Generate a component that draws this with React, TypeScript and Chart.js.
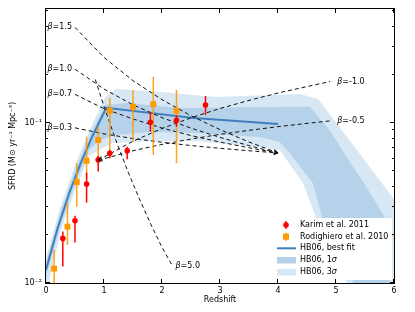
import { useEffect, useRef } from "react";
import { Chart, registerables } from "chart.js";

Chart.register(...registerables);

// ---------- data ----------
const karimZ = [0.29, 0.5, 0.7, 0.9, 1.1, 1.4, 1.8, 2.25, 2.75];
const karimSFRD = [0.019, 0.0245, 0.0415, 0.0588, 0.0647, 0.0672, 0.101, 0.104, 0.1295];
const karimLow = [0.0127, 0.0179, 0.0318, 0.0497, 0.0602, 0.0593, 0.0883, 0.0948, 0.112];
const karimHigh = [0.021, 0.0263, 0.049, 0.0622, 0.0679, 0.0711, 0.1176, 0.112, 0.1474];

const rodZ = [0.14, 0.37, 0.53, 0.7, 0.9, 1.1, 1.5, 1.85, 2.25];
const rodSFRD = [0.0123, 0.0225, 0.0427, 0.058, 0.0783, 0.1193, 0.1264, 0.131, 0.1193];
const rodLow = [0.007, 0.0173, 0.03, 0.0454, 0.058, 0.0659, 0.0765, 0.0632, 0.0561];
const rodHigh = [0.0161, 0.0316, 0.056, 0.0822, 0.0948, 0.1438, 0.1607, 0.1944, 0.161];

const fitZ = [0, 0.2, 0.4, 0.6, 0.8, 1.04, 2.5, 4.0];
const fitSFRD = [0.0121, 0.022, 0.0364, 0.0563, 0.0827, 0.1245, 0.108, 0.0986];

const sigma1UpperZ = [0, 0.25, 0.5, 0.75, 1.02, 1.4, 2.31, 4.2, 4.55, 4.89, 5.16, 5.48, 5.84, 5.93, 5.97];
const sigma1Upper = [0.0133, 0.0276, 0.0502, 0.083, 0.1295, 0.1333, 0.124, 0.1264, 0.1264, 0.0904, 0.063, 0.0422, 0.0259, 0.01, 0.007];
const sigma1LowerZ = [0, 0.25, 0.5, 0.75, 0.935, 1.19, 1.8, 2.57, 3.69, 4.03, 4.2, 4.6, 4.76, 5.44, 5.97];
const sigma1Lower = [0.011, 0.0228, 0.0415, 0.0685, 0.0783, 0.0842, 0.0879, 0.0866, 0.0818, 0.0761, 0.065, 0.0422, 0.0259, 0.0079, 0.006];

const sigma3UpperZ = [0, 0.25, 0.5, 0.75, 1.02, 1.21, 1.97, 2.93, 4.38, 4.69, 5.36, 5.79, 6.1];
const sigma3Upper = [0.0145, 0.03, 0.0547, 0.09, 0.1453, 0.163, 0.156, 0.1453, 0.1517, 0.1412, 0.0679, 0.0422, 0.03];
const sigma3LowerZ = [0, 0.25, 0.5, 0.75, 1.14, 1.8, 2.57, 3.5, 4.03, 4.43, 4.65, 5.32, 6.1];
const sigma3Lower = [0.0085, 0.0209, 0.038, 0.0628, 0.075, 0.0772, 0.0772, 0.0719, 0.0679, 0.0422, 0.0259, 0.0079, 0.005];

const betaPosZ = [0.5, 1.0, 1.5, 2.0, 2.5, 3.0, 3.5, 4.0];
const beta15 = [0.396, 0.257, 0.184, 0.14, 0.111, 0.0909, 0.0761, 0.065];
const beta10 = [0.217, 0.163, 0.13, 0.108, 0.0929, 0.0813, 0.0722, 0.065];
const beta07 = [0.151, 0.123, 0.106, 0.093, 0.0835, 0.076, 0.07, 0.065];
const beta03 = [0.0933, 0.0855, 0.08, 0.0758, 0.0723, 0.0695, 0.0671, 0.065];
const betaNegZ = [0.9, 1.5, 2.0, 2.5, 3.0, 3.5, 4.0, 4.5, 4.9];
const betaM10 = [0.0585, 0.077, 0.0924, 0.1078, 0.1232, 0.1385, 0.154, 0.169, 0.1817];
const betaM05 = [0.0585, 0.0671, 0.0735, 0.0794, 0.0849, 0.09, 0.0949, 0.0995, 0.1031];
const beta5Z = [0.85, 1.0, 1.2, 1.4, 1.6, 1.8, 2.0, 2.18];
const beta50 = [0.187, 0.127, 0.0788, 0.051, 0.0342, 0.0236, 0.0167, 0.0128];

const xTickValues = [0, 1, 2, 3, 4, 5, 6];
const yMajorTicks = [0.01, 0.1];
const yTickLabels = ["10\u207B\u00B2", "10\u207B\u00B9"];
const yMinorTicks = [0.02, 0.03, 0.04, 0.05, 0.06, 0.07, 0.08, 0.09, 0.2, 0.3, 0.4, 0.5];

const legendLabels = ["Karim et al. 2011", "Rodighiero et al. 2010", "HB06, best fit", "HB06, 1", "HB06, 3"];

// ---------- styles ----------
const FAMILY = "'DejaVu Sans', sans-serif";
const RED = "#ff0000";
const ORANGE = "#ff9900";
const FIT = "#3f7fbc";
const SIG1 = "#b6d2ea";
const SIG3 = "#d7e7f4";

const pairs = (xs: number[], ys: number[]) => xs.map((x, i) => ({ x, y: ys[i] }));
const polygon = (uz: number[], uv: number[], lz: number[], lv: number[]) => {
  const pts = pairs(uz, uv);
  for (let i = lz.length - 1; i >= 0; i--) pts.push({ x: lz[i], y: lv[i] });
  return pts;
};

// anchor: where the label sits; arrow: which end carries the arrowhead
const betaLines = [
  { text: "=1.5", z: betaPosZ, v: beta15, anchor: "start", arrow: "end" },
  { text: "=1.0", z: betaPosZ, v: beta10, anchor: "start", arrow: "end" },
  { text: "=0.7", z: betaPosZ, v: beta07, anchor: "start", arrow: "end" },
  { text: "=0.3", z: betaPosZ, v: beta03, anchor: "start", arrow: "end" },
  { text: "=-1.0", z: betaNegZ, v: betaM10, anchor: "end", arrow: "start" },
  { text: "=-0.5", z: betaNegZ, v: betaM05, anchor: "end", arrow: "start" },
  { text: "=5.0", z: beta5Z, v: beta50, anchor: "end5", arrow: "none" },
];

export default function App() {
  const ref = useRef<HTMLCanvasElement>(null);

  useEffect(() => {
    const canvas = ref.current;
    if (!canvas) return;

    const drawErrors = (chart: any, zs: number[], lo: number[], hi: number[], color: string, w: number) => {
      const { ctx, chartArea: a, scales } = chart;
      const x = scales.x, y = scales.y;
      ctx.save();
      ctx.beginPath();
      ctx.rect(a.left, a.top, a.right - a.left, a.bottom - a.top);
      ctx.clip();
      ctx.strokeStyle = color;
      ctx.lineWidth = w;
      zs.forEach((z, i) => {
        const px = x.getPixelForValue(z);
        ctx.beginPath();
        ctx.moveTo(px, y.getPixelForValue(hi[i]));
        ctx.lineTo(px, y.getPixelForValue(lo[i]));
        ctx.stroke();
      });
      ctx.restore();
    };

    const errorBarPlugin = {
      id: "errorBars",
      beforeDatasetDraw(chart: any, args: any) {
        if (args.index === 0) drawErrors(chart, karimZ, karimLow, karimHigh, RED, 1.5);
        if (args.index === 1) drawErrors(chart, rodZ, rodLow, rodHigh, "rgba(255,153,0,0.9)", 1.5);
      },
    };

    const betaLabelPlugin = {
      id: "betaLabels",
      afterDatasetsDraw(chart: any) {
        const { ctx, scales } = chart;
        const x = scales.x, y = scales.y;
        ctx.save();
        ctx.fillStyle = "#000";
        ctx.textBaseline = "middle";
        betaLines.forEach((b) => {
          const n = b.z.length - 1;
          const i = b.anchor === "start" ? 0 : n;
          const px = x.getPixelForValue(b.z[i]);
          const py = y.getPixelForValue(b.v[i]);
          ctx.font = `italic 8px ${FAMILY}`;
          const wb = ctx.measureText("\u03B2").width;
          ctx.font = `8px ${FAMILY}`;
          const wt = ctx.measureText(b.text).width;
          let sx = px + 7;
          if (b.anchor === "start") sx = px - 3 - wb - wt;
          if (b.anchor === "end5") sx = px + 3;
          ctx.font = `italic 8px ${FAMILY}`;
          ctx.textAlign = "left";
          ctx.fillText("\u03B2", sx, py);
          ctx.font = `8px ${FAMILY}`;
          ctx.fillText(b.text, sx + wb, py);

          // open arrowhead at the pointed end
          if (b.arrow !== "none") {
            const tip = b.arrow === "end" ? n : 0;
            const prev = b.arrow === "end" ? n - 1 : 1;
            const tx = x.getPixelForValue(b.z[tip]);
            const ty = y.getPixelForValue(b.v[tip]);
            const qx = x.getPixelForValue(b.z[prev]);
            const qy = y.getPixelForValue(b.v[prev]);
            const ang = Math.atan2(ty - qy, tx - qx);
            ctx.strokeStyle = "#111";
            ctx.lineWidth = 1;
            ctx.beginPath();
            ctx.moveTo(tx - 4.5 * Math.cos(ang - 0.45), ty - 4.5 * Math.sin(ang - 0.45));
            ctx.lineTo(tx, ty);
            ctx.lineTo(tx - 4.5 * Math.cos(ang + 0.45), ty - 4.5 * Math.sin(ang + 0.45));
            ctx.stroke();
          }
        });
        ctx.restore();
      },
    };

    const framePlugin = {
      id: "frameTicks",
      afterDraw(chart: any) {
        const { ctx, chartArea: a, scales } = chart;
        const x = scales.x, y = scales.y;
        ctx.save();
        // legend
        const bx = a.right - 119, by = a.bottom - 65;
        ctx.fillStyle = "#fff";
        ctx.fillRect(bx, by, 117, 62);
        const rows = [7, 18.7, 30.3, 42, 54].map((d) => by + d);
        ctx.strokeStyle = RED; ctx.lineWidth = 1.5;
        ctx.beginPath(); ctx.moveTo(bx + 11, rows[0] - 4); ctx.lineTo(bx + 11, rows[0] + 4); ctx.stroke();
        ctx.fillStyle = RED;
        ctx.beginPath(); ctx.arc(bx + 11, rows[0], 2.8, 0, Math.PI * 2); ctx.fill();
        ctx.strokeStyle = ORANGE;
        ctx.beginPath(); ctx.moveTo(bx + 11, rows[1] - 4); ctx.lineTo(bx + 11, rows[1] + 4); ctx.stroke();
        ctx.fillStyle = ORANGE;
        ctx.fillRect(bx + 8, rows[1] - 3, 6, 6);
        ctx.strokeStyle = FIT; ctx.lineWidth = 2;
        ctx.beginPath(); ctx.moveTo(bx + 2, rows[2]); ctx.lineTo(bx + 21, rows[2]); ctx.stroke();
        ctx.fillStyle = SIG1; ctx.fillRect(bx + 2, rows[3] - 3, 19, 6.5);
        ctx.fillStyle = SIG3; ctx.fillRect(bx + 2, rows[4] - 3, 19, 6.5);
        ctx.fillStyle = "#000";
        ctx.textBaseline = "middle";
        ctx.textAlign = "left";
        legendLabels.forEach((t, i) => {
          ctx.font = `8px ${FAMILY}`;
          ctx.fillText(t, bx + 25, rows[i]);
          if (i >= 3) {
            const w = ctx.measureText(t).width;
            ctx.font = `italic 8px ${FAMILY}`;
            ctx.fillText("\u03C3", bx + 25 + w, rows[i]);
          }
        });
        // frame and inward ticks
        ctx.strokeStyle = "#000";
        ctx.lineWidth = 1;
        ctx.strokeRect(a.left - 0.5, a.top - 0.5, a.right - a.left + 1, a.bottom - a.top + 1);
        const seg = (x1: number, y1: number, x2: number, y2: number) => {
          ctx.beginPath(); ctx.moveTo(x1, y1); ctx.lineTo(x2, y2); ctx.stroke();
        };
        xTickValues.forEach((v) => {
          const px = Math.round(x.getPixelForValue(v)) - 0.5;
          seg(px, a.bottom, px, a.bottom - 4);
          seg(px, a.top, px, a.top + 4);
        });
        yMajorTicks.forEach((v) => {
          const py = Math.round(y.getPixelForValue(v)) - 0.5;
          seg(a.left, py, a.left + 4, py);
          seg(a.right, py, a.right - 4, py);
        });
        yMinorTicks.forEach((v) => {
          const py = Math.round(y.getPixelForValue(v)) - 0.5;
          seg(a.left, py, a.left + 2, py);
          seg(a.right, py, a.right - 2, py);
        });
        ctx.restore();
      },
    };

    const lineDs = (data: any[], color: string, width: number, dash: number[], order: number) => ({
      data,
      showLine: true,
      borderColor: color,
      borderWidth: width,
      borderDash: dash,
      pointRadius: 0,
      fill: false,
      order,
    });

    const chart = new Chart(canvas, {
      type: "scatter",
      data: {
        datasets: [
          {
            data: pairs(karimZ, karimSFRD),
            pointStyle: "circle",
            pointRadius: 2.8,
            backgroundColor: RED,
            borderColor: RED,
            borderWidth: 0,
            order: 0,
          } as any,
          {
            data: pairs(rodZ, rodSFRD),
            pointStyle: "rect",
            pointRadius: 4.2,
            backgroundColor: ORANGE,
            borderColor: ORANGE,
            borderWidth: 0,
            order: 0.5,
          },
          lineDs(pairs(fitZ, fitSFRD), FIT, 2, [], 2),
          ...betaLines.map((b) => lineDs(pairs(b.z, b.v), "#111", 1, [4, 3], 1)),
          {
            data: polygon(sigma1UpperZ, sigma1Upper, sigma1LowerZ, sigma1Lower),
            showLine: true,
            fill: "shape",
            backgroundColor: SIG1,
            borderColor: "rgba(0,0,0,0)",
            borderWidth: 0,
            pointRadius: 0,
            order: 4,
          },
          {
            data: polygon(sigma3UpperZ, sigma3Upper, sigma3LowerZ, sigma3Lower),
            showLine: true,
            fill: "shape",
            backgroundColor: SIG3,
            borderColor: "rgba(0,0,0,0)",
            borderWidth: 0,
            pointRadius: 0,
            order: 5,
          },
        ] as any,
      },
      options: {
        animation: false,
        responsive: false,
        devicePixelRatio: 1,
        events: [],
        layout: { padding: { left: 0, right: 21, top: 9, bottom: 0 } },
        plugins: { legend: { display: false }, tooltip: { enabled: false } },
        scales: {
          x: {
            type: "linear",
            min: 0,
            max: 6,
            bounds: "data",
            afterBuildTicks: (s: any) => {
              s.ticks = xTickValues.map((v) => ({ value: v }));
            },
            afterFit: (s: any) => {
              s.height = 29;
            },
            ticks: {
              autoSkip: false,
              maxRotation: 0,
              padding: 3,
              color: "#000",
              font: { family: FAMILY, size: 8 },
              callback: (v: any) => String(v),
            },
            grid: { display: false, drawTicks: false },
            border: { display: false },
            title: {
              display: true,
              text: "Redshift",
              color: "#000",
              font: { family: FAMILY, size: 8 },
              padding: { top: 0, bottom: 7 },
            },
          },
          y: {
            type: "logarithmic",
            min: 0.01,
            max: 0.516,
            bounds: "data",
            afterBuildTicks: (s: any) => {
              s.ticks = yMajorTicks.map((v) => ({ value: v }));
            },
            afterFit: (s: any) => {
              s.width = 46;
            },
            ticks: {
              autoSkip: false,
              padding: 4,
              color: "#000",
              font: { family: FAMILY, size: 8 },
              callback: (_v: any, i: number) => yTickLabels[i] ?? "",
            },
            grid: { display: false, drawTicks: false },
            border: { display: false },
            title: {
              display: true,
              text: "SFRD (M\u2299 yr\u207B\u00B9 Mpc\u207B\u00B3)",
              color: "#000",
              font: { family: FAMILY, size: 8 },
              padding: { top: 8, bottom: 0 },
            },
          },
        },
      } as any,
      plugins: [errorBarPlugin, betaLabelPlugin, framePlugin],
    });

    return () => chart.destroy();
  }, []);

  return (
    <div style={{ position: "fixed", left: 0, top: 0, width: 415, height: 312, background: "#fff" }}>
      <canvas ref={ref} width={415} height={312} style={{ display: "block", width: 415, height: 312 }} />
    </div>
  );
}
